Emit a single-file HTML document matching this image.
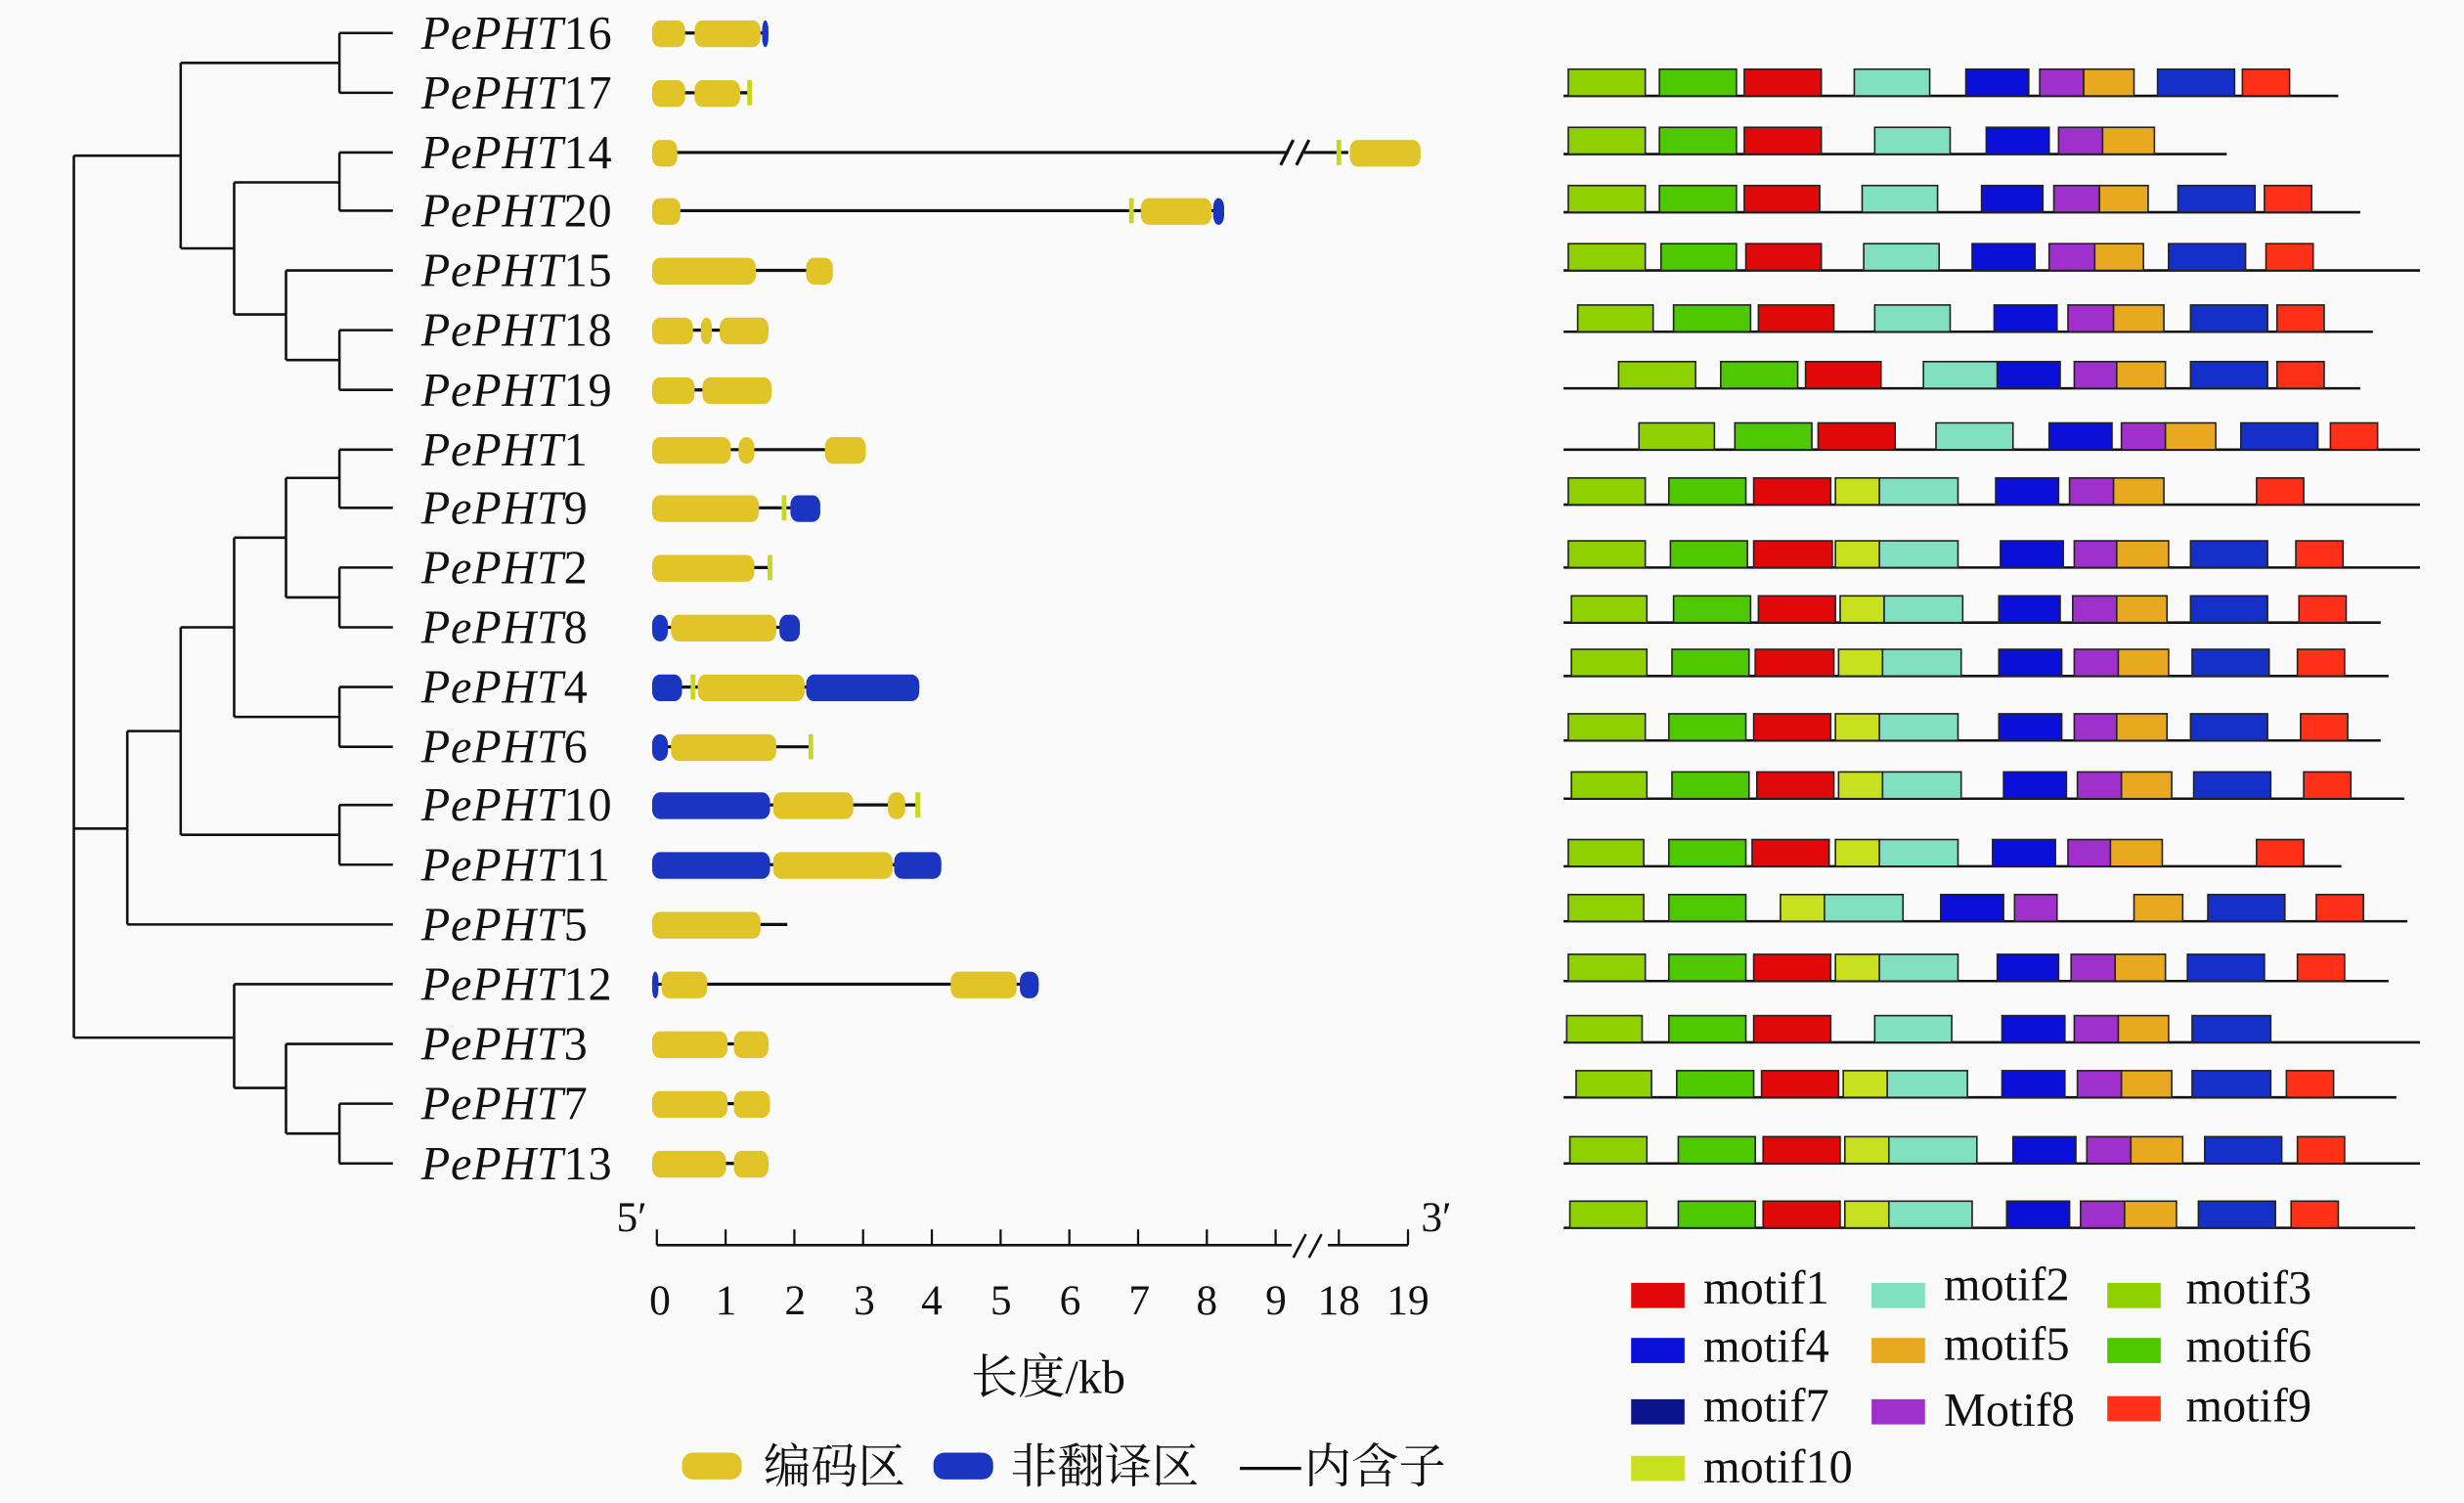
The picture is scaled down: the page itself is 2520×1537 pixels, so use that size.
<!DOCTYPE html>
<html><head><meta charset="utf-8"><style>
html,body{margin:0;padding:0;background:#fafafa;}
svg{display:block;}
text{font-family:"Liberation Serif","Noto Serif CJK SC",serif;fill:#111;}
</style></head><body>
<svg id="s" width="2520" height="1537" viewBox="0 0 1568 956" preserveAspectRatio="none" xmlns="http://www.w3.org/2000/svg">
<rect width="1568" height="956" fill="#fafafa"/>
<g id="tree" stroke="#111" stroke-width="1.6" fill="none"></g>
<g id="genes"></g>
<g id="motifs"></g>
<g font-size="30" letter-spacing="0.5">
<text x="268" y="31"><tspan font-style="italic">PePHT</tspan>16</text>
<text x="268" y="69"><tspan font-style="italic">PePHT</tspan>17</text>
<text x="268" y="107"><tspan font-style="italic">PePHT</tspan>14</text>
<text x="268" y="144"><tspan font-style="italic">PePHT</tspan>20</text>
<text x="268" y="182"><tspan font-style="italic">PePHT</tspan>15</text>
<text x="268" y="220"><tspan font-style="italic">PePHT</tspan>18</text>
<text x="268" y="258"><tspan font-style="italic">PePHT</tspan>19</text>
<text x="268" y="296"><tspan font-style="italic">PePHT</tspan>1</text>
<text x="268" y="333"><tspan font-style="italic">PePHT</tspan>9</text>
<text x="268" y="371"><tspan font-style="italic">PePHT</tspan>2</text>
<text x="268" y="409"><tspan font-style="italic">PePHT</tspan>8</text>
<text x="268" y="447"><tspan font-style="italic">PePHT</tspan>4</text>
<text x="268" y="485"><tspan font-style="italic">PePHT</tspan>6</text>
<text x="268" y="522"><tspan font-style="italic">PePHT</tspan>10</text>
<text x="268" y="560"><tspan font-style="italic">PePHT</tspan>11</text>
<text x="268" y="598"><tspan font-style="italic">PePHT</tspan>5</text>
<text x="268" y="636"><tspan font-style="italic">PePHT</tspan>12</text>
<text x="268" y="674"><tspan font-style="italic">PePHT</tspan>3</text>
<text x="268" y="712"><tspan font-style="italic">PePHT</tspan>7</text>
<text x="268" y="750"><tspan font-style="italic">PePHT</tspan>13</text>
</g>
<g font-size="27" text-anchor="middle">
<text x="402" y="783">5′</text><text x="914" y="783">3′</text>
<text x="420" y="836">0</text><text x="462" y="836">1</text><text x="506" y="836">2</text><text x="550" y="836">3</text><text x="593" y="836">4</text><text x="637" y="836">5</text><text x="681" y="836">6</text><text x="725" y="836">7</text><text x="768" y="836">8</text><text x="812" y="836">9</text><text x="852" y="836">18</text><text x="896" y="836">19</text>
<text x="667" y="886" font-size="30">长度/kb</text>
</g>
<g font-size="30">
<text x="486" y="943">编码区</text><text x="643" y="943">非翻译区</text><text x="830" y="943">内含子</text>
<text x="1084" y="829">motif1</text><text x="1237" y="827">motif2</text><text x="1391" y="829">motif3</text>
<text x="1084" y="866">motif4</text><text x="1237" y="865">motif5</text><text x="1391" y="866">motif6</text>
<text x="1084" y="904">motif7</text><text x="1237" y="907">Motif8</text><text x="1391" y="904">motif9</text>
<text x="1084" y="943">motif10</text>
</g>
</svg>
<script>
var NS="http://www.w3.org/2000/svg";
function el(p,t,a){var e=document.createElementNS(NS,t);for(var k in a)e.setAttribute(k,a[k]);p.appendChild(e);return e;}
var tree=document.getElementById('tree');
var segs=[];
function H(x1,x2,y){segs.push([x1,y,x2,y]);}function V(x,y1,y2){segs.push([x,y1,x,y2]);}
H(216,250,21);H(216,250,59);V(216,21,59);H(115,216,40);
H(216,250,97);H(216,250,134);V(216,97,134);H(149,216,116);
H(216,250,210);H(216,250,248);V(216,210,248);H(182,216,229);
H(182,250,172);V(182,172,229);H(149,182,200);V(149,116,200);H(115,149,158);
V(115,40,158);H(47,115,99);
H(216,250,286);H(216,250,323);V(216,286,323);H(182,216,304);
H(216,250,361);H(216,250,399);V(216,361,399);H(182,216,380);
V(182,304,380);H(149,182,342);
H(216,250,437);H(216,250,475);V(216,437,475);H(149,216,456);
V(149,342,456);H(115,149,399);
H(216,250,512);H(216,250,550);V(216,512,550);H(115,216,531);
V(115,399,531);H(81,115,465);
H(81,250,588);V(81,465,588);H(47,81,527);
H(216,250,702);H(216,250,740);V(216,702,740);H(182,216,721);
H(182,250,664);V(182,664,721);H(149,182,692);
H(149,250,626);V(149,626,692);H(47,149,660);
V(47,99,660);
segs.forEach(function(s){el(tree,'line',{x1:s[0],y1:s[1],x2:s[2],y2:s[3]});});
var g=document.getElementById('genes');
var YC="#e0c428",BC="#1a36c0";
var genes=[
[21,489,[["Y",415,436],["Y",442,484],["B",485,489]]],
[59,477,[["Y",415,436],["Y",442,471],["T",477]]],
[97,0,[["Y",415,431],["T",852],["Y",859,904]]],
[134,773,[["Y",415,433],["T",720],["Y",726,771],["B",772,779]]],
[172,513,[["Y",415,481],["Y",513,530]]],
[210,489,[["Y",415,441],["Y",446,453],["Y",458,489]]],
[248,491,[["Y",415,442],["Y",447,491]]],
[286,525,[["Y",415,465],["Y",470,480],["Y",525,551]]],
[323,503,[["Y",415,483],["T",499],["B",503,522]]],
[361,491,[["Y",415,480],["T",490]]],
[399,509,[["B",415,425],["Y",427,494],["B",496,509]]],
[437,585,[["B",415,434],["T",441],["Y",444,512],["B",513,585]]],
[475,516,[["B",415,425],["Y",427,494],["T",516]]],
[512,584,[["B",415,490],["Y",492,543],["Y",565,576],["T",584]]],
[550,599,[["B",415,490],["Y",492,568],["B",569,599]]],
[588,501,[["Y",415,484]]],
[626,661,[["B",415,419],["Y",421,450],["Y",605,647],["B",649,661]]],
[664,489,[["Y",415,463],["Y",467,489]]],
[702,490,[["Y",415,463],["Y",467,490]]],
[740,489,[["Y",415,462],["Y",467,489]]]
];
genes.forEach(function(r){var y=r[0];
 if(r[1]) el(g,'line',{x1:415,y1:y,x2:r[1],y2:y,stroke:"#111","stroke-width":2});
 else{el(g,'line',{x1:415,y1:y,x2:820,y2:y,stroke:"#111","stroke-width":2});el(g,'line',{x1:830,y1:y,x2:858,y2:y,stroke:"#111","stroke-width":2});
  el(g,'line',{x1:815,y1:y+8,x2:823,y2:y-8,stroke:"#111","stroke-width":2});el(g,'line',{x1:825,y1:y+8,x2:833,y2:y-8,stroke:"#111","stroke-width":2});}
 r[2].forEach(function(p){
  if(p[0]=="T"){el(g,'rect',{x:p[1]-1.5,y:y-8,width:3,height:16,fill:"#c8d820"});return;}
  var w=p[2]-p[1];el(g,'rect',{x:p[1],y:y-8,width:w,height:17,rx:Math.min(5,w/2),ry:6,fill:p[0]=="Y"?YC:BC});
 });
});
el(g,'line',{x1:418,y1:792,x2:822,y2:792,stroke:"#111","stroke-width":1.6});
el(g,'line',{x1:845,y1:792,x2:896,y2:792,stroke:"#111","stroke-width":1.6});
for(var k=0;k<=9;k++){var x=418+43.75*k;el(g,'line',{x1:x,y1:792,x2:x,y2:782,stroke:"#111","stroke-width":1.4});}
[852,896].forEach(function(x){el(g,'line',{x1:x,y1:792,x2:x,y2:782,stroke:"#111","stroke-width":1.4});});
el(g,'line',{x1:823,y1:800,x2:831,y2:785,stroke:"#111","stroke-width":1.6});
el(g,'line',{x1:833,y1:800,x2:841,y2:785,stroke:"#111","stroke-width":1.6});
el(g,'rect',{x:434,y:924,width:38,height:17,rx:7,fill:YC});
el(g,'rect',{x:594,y:924,width:38,height:17,rx:7,fill:BC});
el(g,'line',{x1:789,y1:934,x2:828,y2:934,stroke:"#111","stroke-width":2});
var C={L:"#8ed000",G:"#4ec800",R:"#e00808",A:"#80e0c0",B:"#0a10d8",P:"#a030cc",O:"#e8a820",D:"#1430c8",F:"#ff3018",Y:"#c8e020"};
var m=document.getElementById('motifs');
var rows=[
[61,1488,"L998-1047 G1056-1105 R1110-1159 A1180-1228 B1251-1291 P1298-1326 O1326-1358 D1373-1422 F1427-1457"],
[98,1417,"L998-1047 G1056-1105 R1110-1159 A1193-1241 B1264-1304 P1310-1338 O1338-1371"],
[135,1502,"L998-1047 G1056-1105 R1110-1158 A1185-1233 B1261-1300 P1307-1336 O1336-1367 D1386-1435 F1441-1471"],
[172,1540,"L998-1047 G1057-1105 R1111-1159 A1186-1234 B1255-1295 P1304-1333 O1333-1364 D1380-1429 F1442-1472"],
[211,1510,"L1004-1052 G1065-1114 R1119-1167 A1193-1241 B1269-1309 P1316-1345 O1345-1377 D1394-1443 F1449-1479"],
[247,1502,"L1030-1079 G1095-1144 R1149-1197 A1224-1271 B1271-1311 P1320-1347 O1347-1378 D1394-1443 F1449-1479"],
[286,1540,"L1043-1091 G1104-1153 R1157-1206 A1232-1281 B1304-1344 P1350-1378 O1378-1410 D1426-1475 F1483-1513"],
[321,1540,"L998-1047 G1062-1111 R1116-1165 Y1168-1196 A1196-1246 B1270-1310 P1317-1345 O1345-1377 F1436-1466"],
[361,1540,"L998-1047 G1063-1112 R1116-1166 Y1168-1196 A1196-1246 B1273-1313 P1320-1347 O1347-1380 D1394-1443 F1461-1491"],
[396,1515,"L1000-1048 G1065-1114 R1119-1168 Y1171-1199 A1199-1249 B1272-1311 P1319-1347 O1347-1379 D1394-1443 F1463-1493"],
[430,1520,"L1000-1048 G1064-1113 R1117-1167 Y1170-1198 A1198-1248 B1272-1312 P1320-1348 O1348-1380 D1395-1444 F1462-1492"],
[471,1515,"L998-1047 G1062-1111 R1116-1165 Y1168-1196 A1196-1246 B1272-1312 P1320-1347 O1347-1379 D1394-1443 F1464-1494"],
[508,1530,"L1000-1048 G1064-1113 R1118-1167 Y1170-1198 A1198-1248 B1275-1315 P1322-1350 O1350-1382 D1396-1445 F1466-1496"],
[551,1490,"L998-1046 G1062-1111 R1115-1164 Y1168-1196 A1196-1246 B1268-1308 P1316-1343 O1343-1376 F1436-1466"],
[586,1532,"L998-1046 G1062-1111 Y1133-1161 A1161-1211 B1235-1275 P1282-1309 O1358-1389 D1405-1454 F1474-1504"],
[624,1520,"L998-1047 G1062-1111 R1116-1165 Y1168-1196 A1196-1246 B1271-1310 P1318-1346 O1346-1378 D1392-1441 F1462-1492"],
[663,1540,"L997-1045 G1062-1111 R1116-1165 A1193-1242 B1274-1314 P1320-1348 O1348-1380 D1395-1445"],
[698,1525,"L1003-1051 G1067-1116 R1121-1170 Y1173-1201 A1201-1252 B1274-1314 P1322-1350 O1350-1382 D1395-1445 F1455-1485"],
[740,1540,"L999-1048 G1068-1117 R1122-1171 Y1174-1202 A1202-1258 B1281-1321 P1328-1356 O1356-1389 D1403-1452 F1462-1492"],
[781,1537,"L999-1048 G1068-1117 R1122-1171 Y1174-1202 A1202-1255 B1277-1317 P1324-1352 O1352-1385 D1399-1448 F1458-1488"]
];
rows.forEach(function(r){var y=r[0];
 el(m,'line',{x1:995,y1:y,x2:r[1],y2:y,stroke:"#111","stroke-width":1.6});
 r[2].split(" ").forEach(function(t){var c=t[0],a=t.slice(1).split("-");var x1=+a[0],x2=+a[1];
  el(m,'rect',{x:x1,y:y-17,width:x2-x1,height:17,fill:C[c],stroke:"#222","stroke-width":1});});
});
var lg=[[1038,816,"R"],[1191,816,"A"],[1341,816,"L"],[1038,851,"B"],[1191,851,"O"],[1341,851,"G"],[1038,890,"D"],[1191,890,"P"],[1341,888,"F"],[1038,926,"Y"]];
var C2=Object.assign({},C,{D:"#0a148c"});
lg.forEach(function(l){el(m,'rect',{x:l[0],y:l[1],width:34,height:16,fill:C2[l[2]]});});
</script>
</body></html>
